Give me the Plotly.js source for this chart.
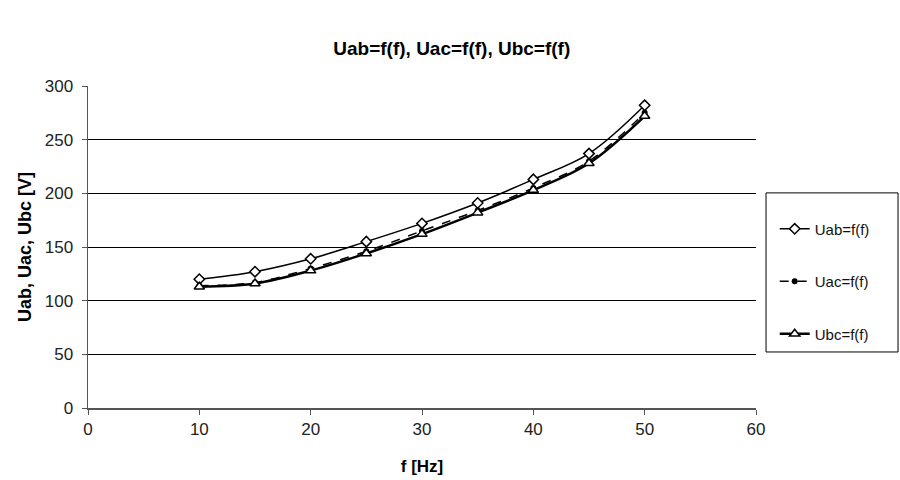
<!DOCTYPE html>
<html>
<head>
<meta charset="utf-8">
<script src="https://cdn.plot.ly/plotly-3.0.1.min.js"></script>
<style>html,body{margin:0;padding:0;background:#fff;}#chart{width:900px;height:480px;}</style>
</head>
<body>
<div id="chart"></div>
<script>
const freq = [10, 15, 20, 25, 30, 35, 40, 45, 50];
const uab = [120, 127, 139, 155, 172, 191, 213, 237, 282];
const uac = [114, 117, 130, 146, 165, 184, 205, 230, 275];
const ubc = [113, 116, 128, 144, 162, 182, 203, 228, 272];
const seriesNames = ["Uab=f(f)", "Uac=f(f)", "Ubc=f(f)"];

const traces = [
  {x: freq, y: uab, name: seriesNames[0], legendgroup: "a", mode: "lines+markers",
   line: {color: "#000", width: 1.5, shape: "spline"},
   marker: {symbol: "diamond", size: 8, color: "#fff", line: {color: "#000", width: 1.5}}},
  {x: freq, y: uac, name: seriesNames[1], legendgroup: "b", mode: "lines+markers",
   line: {color: "#000", width: 1.5, dash: "dash", shape: "spline"},
   marker: {symbol: "circle", size: 6, color: "#000"}},
  {x: freq, y: ubc, name: seriesNames[2], legendgroup: "c", mode: "lines+markers",
   line: {color: "#000", width: 2.5, shape: "spline"},
   marker: {symbol: "triangle-up", size: 9, color: "#fff", line: {color: "#000", width: 1.5}}}
];

const layout = {
  width: 900, height: 480,
  margin: {l: 88, r: 144, t: 86, b: 72},
  paper_bgcolor: "#fff", plot_bgcolor: "#fff",
  font: {family: "Liberation Sans, Arial, sans-serif", color: "#000", size: 14},
  title: {text: "<b>Uab=f(f), Uac=f(f), Ubc=f(f)</b>", x: 0.502, xanchor: "center",
          yref: "container", y: 0.9, yanchor: "middle",
          font: {size: 19, family: "Liberation Sans, Arial, sans-serif"}},
  xaxis: {range: [0, 60], tickvals: [0,10,20,30,40,50,60], showgrid: false, zeroline: false,
          showline: true, linecolor: "#555", linewidth: 1.5, ticks: "outside", ticklen: 5, tickcolor: "#555",
          tickfont: {size: 17, color: "#222"},
          title: {text: "<b>f [Hz]</b>", font: {size: 17}, standoff: 22}},
  yaxis: {range: [0, 300], tickvals: [0,50,100,150,200,250,300], showgrid: true, gridcolor: "#000", gridwidth: 1,
          zeroline: false, showline: true, linecolor: "#555", linewidth: 1.5, ticks: "outside", ticklen: 5, tickcolor: "#555",
          tickfont: {size: 17, color: "#222"}, ticklabelstandoff: 5,
          title: {text: "<b>Uab, Uac, Ubc [V]</b>", font: {size: 18}, standoff: 8}},
  legend: {x: 1.028, xanchor: "left", y: 0.607, yanchor: "top", borderwidth: 0,
           bgcolor: "rgba(0,0,0,0)", font: {size: 15, color: "#111"}, tracegroupgap: 30, traceorder: "grouped"},
  shapes: [{type: "rect", xref: "paper", yref: "paper", x0: 1.015, x1: 1.2126, y0: 0.174, y1: 0.668,
            line: {color: "#000", width: 1}, fillcolor: "rgba(0,0,0,0)"}],
  showlegend: true
};

Plotly.newPlot("chart", traces, layout, {displayModeBar: false, staticPlot: true});
</script>
</body>
</html>
